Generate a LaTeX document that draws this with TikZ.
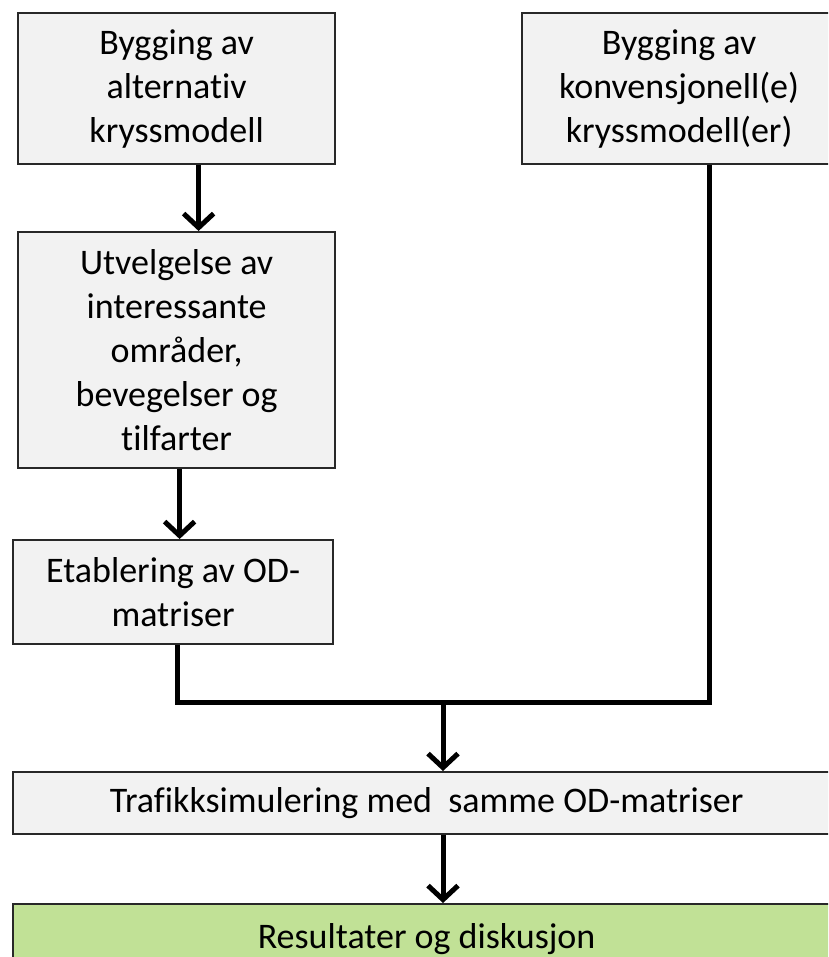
\documentclass[tikz,border=0pt]{standalone}
\usepackage{fontspec}
\setmainfont{Carlito}[Ligatures={NoCommon,NoContextual}]
\usetikzlibrary{arrows.meta}
\definecolor{boxgray}{RGB}{242,242,242}
\definecolor{boxgreen}{RGB}{193,225,150}
\definecolor{edgedark}{RGB}{40,40,40}
\begin{document}
\begin{tikzpicture}[x=1pt,y=-1pt,
  stepbox/.style={draw=edgedark, line width=2.2pt, fill=boxgray, inner sep=0pt,
    align=center, font=\fontsize{36}{44}\selectfont, anchor=north west},
  flow/.style={line width=5pt, -{Straight Barb[length=14pt,width=30pt,line width=5pt]}},
  link/.style={line width=5pt, line join=miter}]
\useasboundingbox (0,0) rectangle (828,957);
\clip (0,0) rectangle (828,957);

% process boxes (top-left corner, width, height)
\node[stepbox, minimum width=317pt, minimum height=151pt] (b1) at (17,12)
  {Bygging av\\alternativ\\kryssmodell};
\node[stepbox, minimum width=314pt, minimum height=151pt] (b2) at (521,12)
  {Bygging av\\konvensjonell(e)\\kryssmodell(er)};
\node[stepbox, minimum width=317pt, minimum height=236pt] (b3) at (17,231)
  {Utvelgelse av\\interessante\\områder,\\bevegelser og\\tilfarter};
\node[stepbox, minimum width=320pt, minimum height=104pt] (b4) at (12,539)
  {Etablering av OD-\\matriser};
\node[stepbox, minimum width=827pt, minimum height=62pt] (b5) at (12,771)
  {Trafikksimulering med\ \ samme OD-matriser};
\node[stepbox, fill=boxgreen, minimum width=827pt, minimum height=70pt] (b6) at (12,903)
  {Resultater og diskusjon};

% merge point of the two branches
\coordinate (j) at (443,702);

% connectors
\draw[flow] ([xshift=22pt]b1.south) -- ([xshift=22pt]b3.north);
\draw[flow] ([xshift=3pt]b3.south) -- ([xshift=3pt]b3.south |- b4.north);
\draw[link] ([xshift=4pt]b4.south) |- (j);
\draw[link] ([xshift=30pt]b2.south) |- (j);
\draw[flow] ([yshift=-2.5pt]j) -- (j |- b5.north);
\draw[flow] (j |- b5.south) -- (j |- b6.north);
\end{tikzpicture}
\end{document}
